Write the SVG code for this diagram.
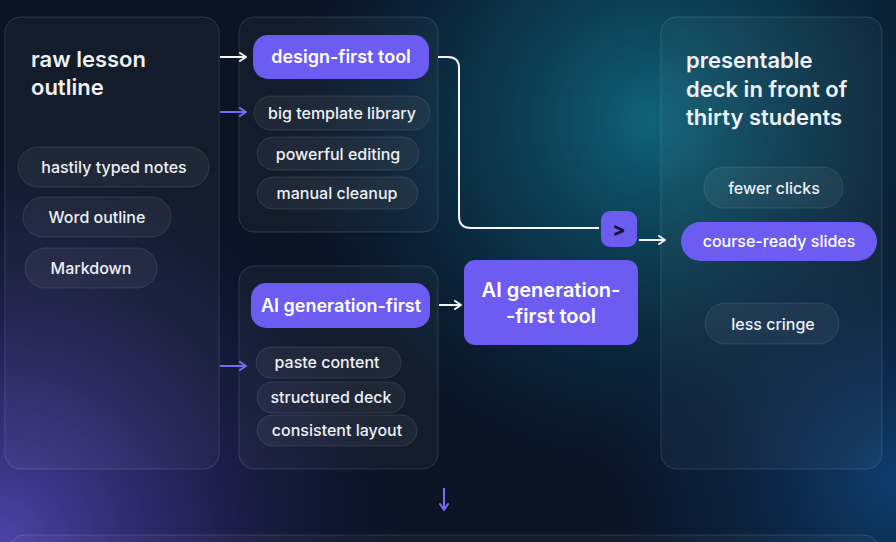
<svg xmlns="http://www.w3.org/2000/svg" width="896" height="542" viewBox="0 0 896 542">
<defs>
<radialGradient id="teal" cx="650" cy="120" r="390" gradientUnits="userSpaceOnUse">
<stop offset="0" stop-color="#0f6377"/>
<stop offset="0.5" stop-color="#0b3a52" stop-opacity="0.7"/>
<stop offset="1" stop-color="#0a1a30" stop-opacity="0"/>
</radialGradient>
<radialGradient id="purple" cx="0" cy="542" r="420" gradientUnits="userSpaceOnUse">
<stop offset="0" stop-color="#4d43a8"/>
<stop offset="0.45" stop-color="#2c2768" stop-opacity="0.8"/>
<stop offset="1" stop-color="#131433" stop-opacity="0"/>
</radialGradient>
<radialGradient id="blue" cx="896" cy="480" r="300" gradientUnits="userSpaceOnUse">
<stop offset="0" stop-color="#0e3e6e"/>
<stop offset="1" stop-color="#0b2447" stop-opacity="0"/>
</radialGradient>
<marker id="hw" viewBox="0 0 10 10" refX="8" refY="5" markerWidth="10" markerHeight="10" markerUnits="userSpaceOnUse" orient="auto">
<path d="M2,1 L8,5 L2,9" fill="none" stroke="#f4f6fa" stroke-width="2" stroke-linecap="round" stroke-linejoin="round"/>
</marker>
<marker id="hp" viewBox="0 0 10 10" refX="8" refY="5" markerWidth="10" markerHeight="10" markerUnits="userSpaceOnUse" orient="auto">
<path d="M2,1 L8,5 L2,9" fill="none" stroke="#7a6cf5" stroke-width="2" stroke-linecap="round" stroke-linejoin="round"/>
</marker>
</defs>
<style>
.panel{fill:rgba(255,255,255,0.035);stroke:rgba(255,255,255,0.13);stroke-width:1}
.pill{fill:rgba(255,255,255,0.05);stroke:rgba(255,255,255,0.1);stroke-width:1}
.hi{fill:#6c5cf2}
.t{font-family:Inter,"Noto Sans","Liberation Sans",sans-serif;fill:#eef1f6}
.title{font-size:22px;font-weight:600}
.pt{font-size:16px;font-weight:500;text-anchor:middle}
.ht{font-size:18px;font-weight:600;text-anchor:middle;fill:#ffffff}
.cw{fill:none;stroke:#f4f6fa;stroke-width:2}
.cp{fill:none;stroke:#7a6cf5;stroke-width:2}
</style>
<rect width="896" height="542" fill="#0a1424"/>
<rect width="896" height="542" fill="url(#teal)"/>
<rect width="896" height="542" fill="url(#blue)"/>
<rect width="896" height="542" fill="url(#purple)"/>

<g id="raw-outline">
<rect class="panel" x="5" y="17" width="214" height="452" rx="15"/>
<text class="t title" x="31" y="67">raw lesson</text>
<text class="t title" x="31" y="95">outline</text>
<rect class="pill" x="18" y="147" width="191" height="40" rx="20"/>
<text class="t pt" x="114" y="173">hastily typed notes</text>
<rect class="pill" x="23" y="197" width="148" height="40" rx="20"/>
<text class="t pt" x="97" y="223">Word outline</text>
<rect class="pill" x="25" y="248" width="132" height="40" rx="20"/>
<text class="t pt" x="91" y="274">Markdown</text>
</g>

<g id="design-first">
<rect class="panel" x="239" y="17" width="199" height="215" rx="15"/>
<rect class="hi" x="253" y="35" width="176" height="44" rx="15"/>
<text class="t ht" x="341" y="63">design-first tool</text>
<rect class="pill" x="254" y="96" width="176" height="34" rx="17"/>
<text class="t pt" x="342" y="119">big template library</text>
<rect class="pill" x="257" y="137" width="162" height="33" rx="16.5"/>
<text class="t pt" x="338" y="159.5">powerful editing</text>
<rect class="pill" x="257" y="177" width="161" height="32" rx="16"/>
<text class="t pt" x="337" y="198.5">manual cleanup</text>
</g>

<g id="ai-first">
<rect class="panel" x="239" y="266" width="199" height="203" rx="15"/>
<rect class="hi" x="251" y="283" width="179" height="45" rx="15"/>
<text class="t ht" x="341" y="311.5">AI generation-first</text>
<rect class="pill" x="256" y="347" width="145" height="31" rx="15.5"/>
<text class="t pt" x="327" y="368">paste content</text>
<rect class="pill" x="257" y="382" width="148" height="31" rx="15.5"/>
<text class="t pt" x="331" y="403">structured deck</text>
<rect class="pill" x="257" y="415" width="160" height="31" rx="15.5"/>
<text class="t pt" x="337" y="436">consistent layout</text>
</g>

<g id="ai-tool">
<rect class="hi" x="464" y="260" width="174" height="85" rx="11"/>
<text class="t ht" x="551" y="297" style="font-size:20px">AI generation-</text>
<text class="t ht" x="551" y="323" style="font-size:20px">-first tool</text>
</g>

<g id="merge">
<rect class="hi" x="601" y="211" width="36" height="36" rx="9"/>
<text x="619" y="236" style="font-family:Inter,'Liberation Sans',sans-serif;font-size:19px;font-weight:800;text-anchor:middle;fill:#17123a">&gt;</text>
</g>

<g id="deck">
<rect class="panel" x="661" y="17" width="221" height="452" rx="15"/>
<text class="t title" x="686" y="68">presentable</text>
<text class="t title" x="686" y="97">deck in front of</text>
<text class="t title" x="686" y="125">thirty students</text>
<rect class="pill" x="704" y="167" width="139" height="41" rx="20.5"/>
<text class="t pt" x="774" y="193.5">fewer clicks</text>
<rect class="hi" x="681" y="222" width="196" height="39" rx="19.5"/>
<text class="t pt" x="779" y="247" style="fill:#ffffff">course-ready slides</text>
<rect class="pill" x="705" y="303" width="134" height="41" rx="20.5"/>
<text class="t pt" x="773" y="329.5">less cringe</text>
</g>

<g id="summary">
<rect class="panel" x="9" y="535" width="870" height="40" rx="15"/>
</g>

<g id="connectors">
<path class="cw" d="M220,57 H246" marker-end="url(#hw)"/>
<path class="cp" d="M220,112 H246" marker-end="url(#hp)"/>
<path class="cp" d="M220,366 H246" marker-end="url(#hp)"/>
<path class="cw" d="M439,305 H461" marker-end="url(#hw)"/>
<path class="cw" d="M438,57 H448 Q459,57 459,68 V216 Q459,228 471,228 H599"/>
<path class="cw" d="M639,240 H665" marker-end="url(#hw)"/>
<path class="cp" d="M444,488 V510" marker-end="url(#hp)"/>
</g>
</svg>
